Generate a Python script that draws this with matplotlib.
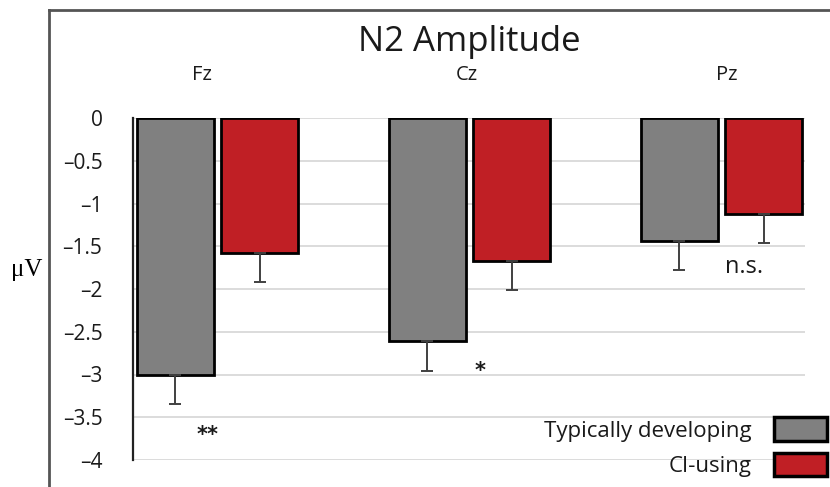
import numpy as np
import matplotlib.pyplot as plt
from matplotlib.lines import Line2D

# data
sites = ['Fz', 'Cz', 'Pz']
td_mean = [-3.00, -2.61, -1.44]
td_err = [0.35, 0.35, 0.34]
ci_mean = [-1.58, -1.67, -1.12]
ci_err = [0.34, 0.34, 0.34]
sig_labels = ['**', '*', 'n.s.']
sig_y = [-3.67, -2.92, -1.74]
yticks = [0, -0.5, -1, -1.5, -2, -2.5, -3, -3.5, -4]

plt.rcParams['font.family'] = ['Open Sans', 'DejaVu Sans']

fig = plt.figure(figsize=(8.3, 4.87), dpi=100)
ax = fig.add_axes([133/830, 1 - 460/487, 672/830, 342/487])

x = np.arange(len(sites))
w = 0.305
off = 0.167
err_kw = dict(ecolor='#404040', elinewidth=1.4, capsize=4.5, capthick=1.4)

ax.bar(x - off, td_mean, w, color='#808080', edgecolor='black', linewidth=2,
       label='Typically developing', zorder=3)
ax.bar(x + off, ci_mean, w, color='#c01f25', edgecolor='black', linewidth=2,
       label='CI-using', zorder=3)
ax.errorbar(x - off, td_mean, yerr=[td_err, [0]*3], fmt='none', zorder=4, **err_kw)
ax.errorbar(x + off, ci_mean, yerr=[ci_err, [0]*3], fmt='none', zorder=4, **err_kw)

ax.set_ylim(-4, 0)
ax.set_xlim(-0.335, 2.331)
ax.set_yticks(yticks)
ax.set_yticklabels([f'{t:g}'.replace('-', '\u2013') for t in yticks], fontsize=15,
                   color='#1a1a1a')
ax.tick_params(axis='y', length=0, pad=22)
ax.set_xticks([])
ax.yaxis.grid(True, color='#d9d9d9', linewidth=1.3, zorder=0)
ax.set_axisbelow(True)
for s in ['top', 'right', 'bottom']:
    ax.spines[s].set_visible(False)
ax.spines['left'].set_linewidth(1.6)
ax.spines['left'].set_color('#222222')

# electrode labels above the bars
for xi, s, dx in zip(x, sites, [-0.06, -0.01, 0.02]):
    ax.text(xi + dx, 1 + 43/342, s, transform=ax.get_xaxis_transform(),
            ha='center', va='center', fontsize=14.5, color='#1a1a1a')

# significance marks
for xi, lab, yy, dx in zip(x, sig_labels, sig_y, [-0.04, 0.04, 0.09]):
    if lab == 'n.s.':
        ax.text(xi + dx, yy, lab, ha='center', va='center', fontsize=17,
                color='#1a1a1a')
    else:
        ax.text(xi + dx, yy - 0.04, lab, ha='center', va='center', fontsize=15,
                fontweight='bold', family='DejaVu Sans', color='#1a1a1a')

fig.text(469/830, 1 - 42/487, 'N2 Amplitude', ha='center', va='center',
         fontsize=25, color='#1a1a1a')
fig.text(27/830, 1 - 270/487, 'μV', ha='center', va='center',
         fontsize=18, family='Liberation Serif')

leg = ax.legend(loc='lower right', bbox_to_anchor=(838/830, 1 - 488/487),
                bbox_transform=fig.transFigure, frameon=False, markerfirst=False,
                fontsize=16, handlelength=2.4, handleheight=1.25,
                handletextpad=1.0, labelspacing=0.5, borderpad=0)
for p in leg.get_patches():
    p.set_linewidth(2.5)
for t in leg.get_texts():
    t.set_color('#1a1a1a')

# outer frame (top and left)
fig.add_artist(Line2D([49/830, 1], [1 - 10/487, 1 - 10/487],
                      transform=fig.transFigure, color='#555555', linewidth=2))
fig.add_artist(Line2D([49/830, 49/830], [0, 1 - 10/487],
                      transform=fig.transFigure, color='#555555', linewidth=2))

fig.savefig('out.png', dpi=100)
